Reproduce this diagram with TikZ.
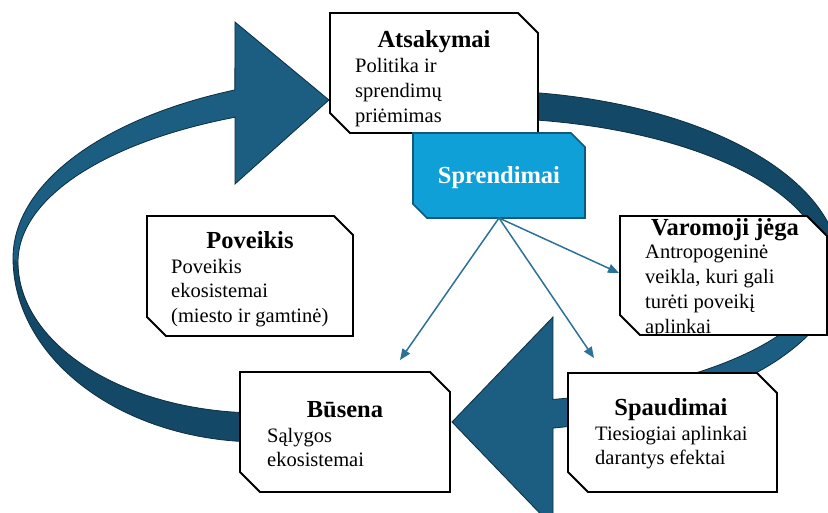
\documentclass[tikz,border=0pt]{standalone}
\usepackage{fontspec}
\setmainfont{Liberation Serif}
\usetikzlibrary{arrows.meta,calc}
\definecolor{ringlight}{HTML}{1B5E82}
\definecolor{ringdark}{HTML}{134966}
\definecolor{ringedge}{HTML}{0B2E40}
\definecolor{sprfill}{HTML}{0FA0D8}
\definecolor{sprline}{HTML}{13577A}
\definecolor{arrowblue}{HTML}{2A7298}
\newcommand{\hdfont}{\fontsize{24.5}{29}\selectfont\bfseries}
\newcommand{\bdfont}{\fontsize{20.5}{25}\selectfont}
\newcommand{\chbox}[3]{\path[#1] (#2.north west) -- ([xshift=-#3]#2.north east) -- ([yshift=-#3]#2.north east) -- (#2.south east) -- ([xshift=#3]#2.south west) -- ([yshift=#3]#2.south west) -- cycle;}
\begin{document}
\begin{tikzpicture}[x=1pt,y=-1pt,
  boxarea/.style={rectangle,inner sep=0pt,outer sep=0pt,anchor=north west},
  boxline/.style={fill=white,draw=black,line width=1.8pt,line join=miter},
  sprbox/.style={fill=sprfill,draw=sprline,line width=1.6pt,line join=miter},
  hd/.style={inner sep=0pt,anchor=base,font=\hdfont},
  bd/.style={inner sep=0pt,anchor=base west,font=\bdfont},
  thinarrow/.style={draw=arrowblue,line width=1.5pt,-{Triangle[length=11pt,width=9pt]}},
  ringedgeline/.style={draw=ringedge,line width=0.8pt,line join=miter}]
\useasboundingbox (0,0) rectangle (828,512);
\clip (0,0) rectangle (828,512);

% ---- left ring (Busena -> Atsakymai)
\fill[ringlight] plot[domain=113.3:180,samples=50,variable=\t] ({380+367*cos(\t)},{258-183*sin(\t)})
  -- plot[domain=180:113.6,samples=50,variable=\t] ({380+362*cos(\t)},{262-158*sin(\t)})
  -- (235,184) -- (329,100) -- (235,22) -- cycle;
\fill[ringdark] plot[domain=180:268,samples=50,variable=\t] ({260+247*cos(\t)},{258-184*sin(\t)})
  -- plot[domain=268:180,samples=50,variable=\t] ({260+242*cos(\t)},{262-151*sin(\t)}) -- cycle;
\path[ringedgeline] plot[domain=113.3:180,samples=50,variable=\t] ({380+367*cos(\t)},{258-183*sin(\t)})
  -- plot[domain=180:268,samples=50,variable=\t] ({260+247*cos(\t)},{258-184*sin(\t)})
  -- plot[domain=268:180,samples=50,variable=\t] ({260+242*cos(\t)},{262-151*sin(\t)})
  -- plot[domain=180:113.6,samples=50,variable=\t] ({380+362*cos(\t)},{262-158*sin(\t)})
  -- (235,184) -- (329,100) -- (235,22) -- cycle;

% ---- right ring (Atsakymai -> Spaudimai -> Busena)
\fill[ringdark] plot[domain=82:0,samples=50,variable=\t] ({480+360*cos(\t)},{268-177.5*sin(\t)})
  -- plot[domain=0:81.7,samples=50,variable=\t] ({480+345*cos(\t)},{268-150*sin(\t)}) -- cycle;
\fill[ringlight] plot[domain=0:-78.3,samples=50,variable=\t] ({480+360*cos(\t)},{268-163.5*sin(\t)})
  -- (553,527) -- (452,422) -- (553,317)
  -- plot[domain=-77.8:0,samples=50,variable=\t] ({480+345*cos(\t)},{268-134.5*sin(\t)}) -- cycle;
\path[ringedgeline] plot[domain=82:0,samples=50,variable=\t] ({480+360*cos(\t)},{268-177.5*sin(\t)})
  -- plot[domain=0:-78.3,samples=50,variable=\t] ({480+360*cos(\t)},{268-163.5*sin(\t)})
  -- (553,527) -- (452,422) -- (553,317)
  -- plot[domain=-77.8:0,samples=50,variable=\t] ({480+345*cos(\t)},{268-134.5*sin(\t)})
  -- plot[domain=0:81.7,samples=50,variable=\t] ({480+345*cos(\t)},{268-150*sin(\t)}) -- cycle;

% ---- box areas
\node[boxarea,minimum width=208pt,minimum height=120pt] (atsakymai) at (330,13) {};
\node[boxarea,minimum width=207pt,minimum height=119pt] (varomoji) at (620,216) {};
\node[boxarea,minimum width=206pt,minimum height=120pt] (poveikis) at (147,216) {};
\node[boxarea,minimum width=210pt,minimum height=120pt] (busena) at (240,372) {};
\node[boxarea,minimum width=209pt,minimum height=119pt] (spaudimai) at (568,373) {};
\node[boxarea,minimum width=172pt,minimum height=85pt] (sprendimai) at (413,133) {};

\chbox{boxline}{atsakymai}{20pt}
\chbox{boxline}{poveikis}{19pt}
\chbox{boxline}{busena}{20pt}
\chbox{boxline}{spaudimai}{20pt}
\path[fill=white] (varomoji.north west) -- ([xshift=-20pt]varomoji.north east) -- ([yshift=-20pt]varomoji.north east) -- (varomoji.south east) -- ([xshift=18pt]varomoji.south west) -- ([yshift=18pt]varomoji.south west) -- cycle;

% ---- texts
\node[hd] (atsH) at (434,47) {Atsakymai};
\node[bd] (atsL1) at (355,72) {Politika ir};
\node[bd] (atsL2) at (355,97) {sprendimų};
\node[bd] (atsL3) at (355,122) {priėmimas};

\begin{scope}
\clip (620,216) rectangle (827,334.5);
\node[hd] (varH) at (725,235) {Varomoji jėga};
\node[bd] (varL1) at (645,258) {Antropogeninė};
\node[bd] (varL2) at (645,283) {veikla, kuri gali};
\node[bd] (varL3) at (645,308) {turėti poveikį};
\node[bd] (varL4) at (645,333) {aplinkai};
\end{scope}
\chbox{draw=black,line width=1.8pt,line join=miter}{varomoji}{20pt}

\node[hd] (povH) at (250,248) {Poveikis};
\node[bd] (povL1) at (171,273) {Poveikis};
\node[bd] (povL2) at (171,297) {ekosistemai};
\node[bd] (povL3) at (171,322) {(miesto ir gamtinė)};

\node[hd] (busH) at (345,417) {Būsena};
\node[bd] (busL1) at (267,442) {Sąlygos};
\node[bd] (busL2) at (267,466) {ekosistemai};

\node[hd] (spaH) at (671,415) {Spaudimai};
\node[bd] (spaL1) at (595,440) {Tiesiogiai aplinkai};
\node[bd] (spaL2) at (595,464) {darantys efektai};

% ---- Sprendimai
\chbox{sprbox}{sprendimai}{14pt}
\node[hd,text=white] (sprH) at (499,183) {Sprendimai};

% ---- thin arrows
\coordinate (busIn) at (400,360);
\coordinate (spaIn) at (594,358);
\coordinate (varIn) at (619,273);
\draw[thinarrow] (sprendimai.south) -- (busIn);
\draw[thinarrow] (sprendimai.south) -- (spaIn);
\draw[thinarrow] (sprendimai.south) -- (varIn);
\end{tikzpicture}
\end{document}
